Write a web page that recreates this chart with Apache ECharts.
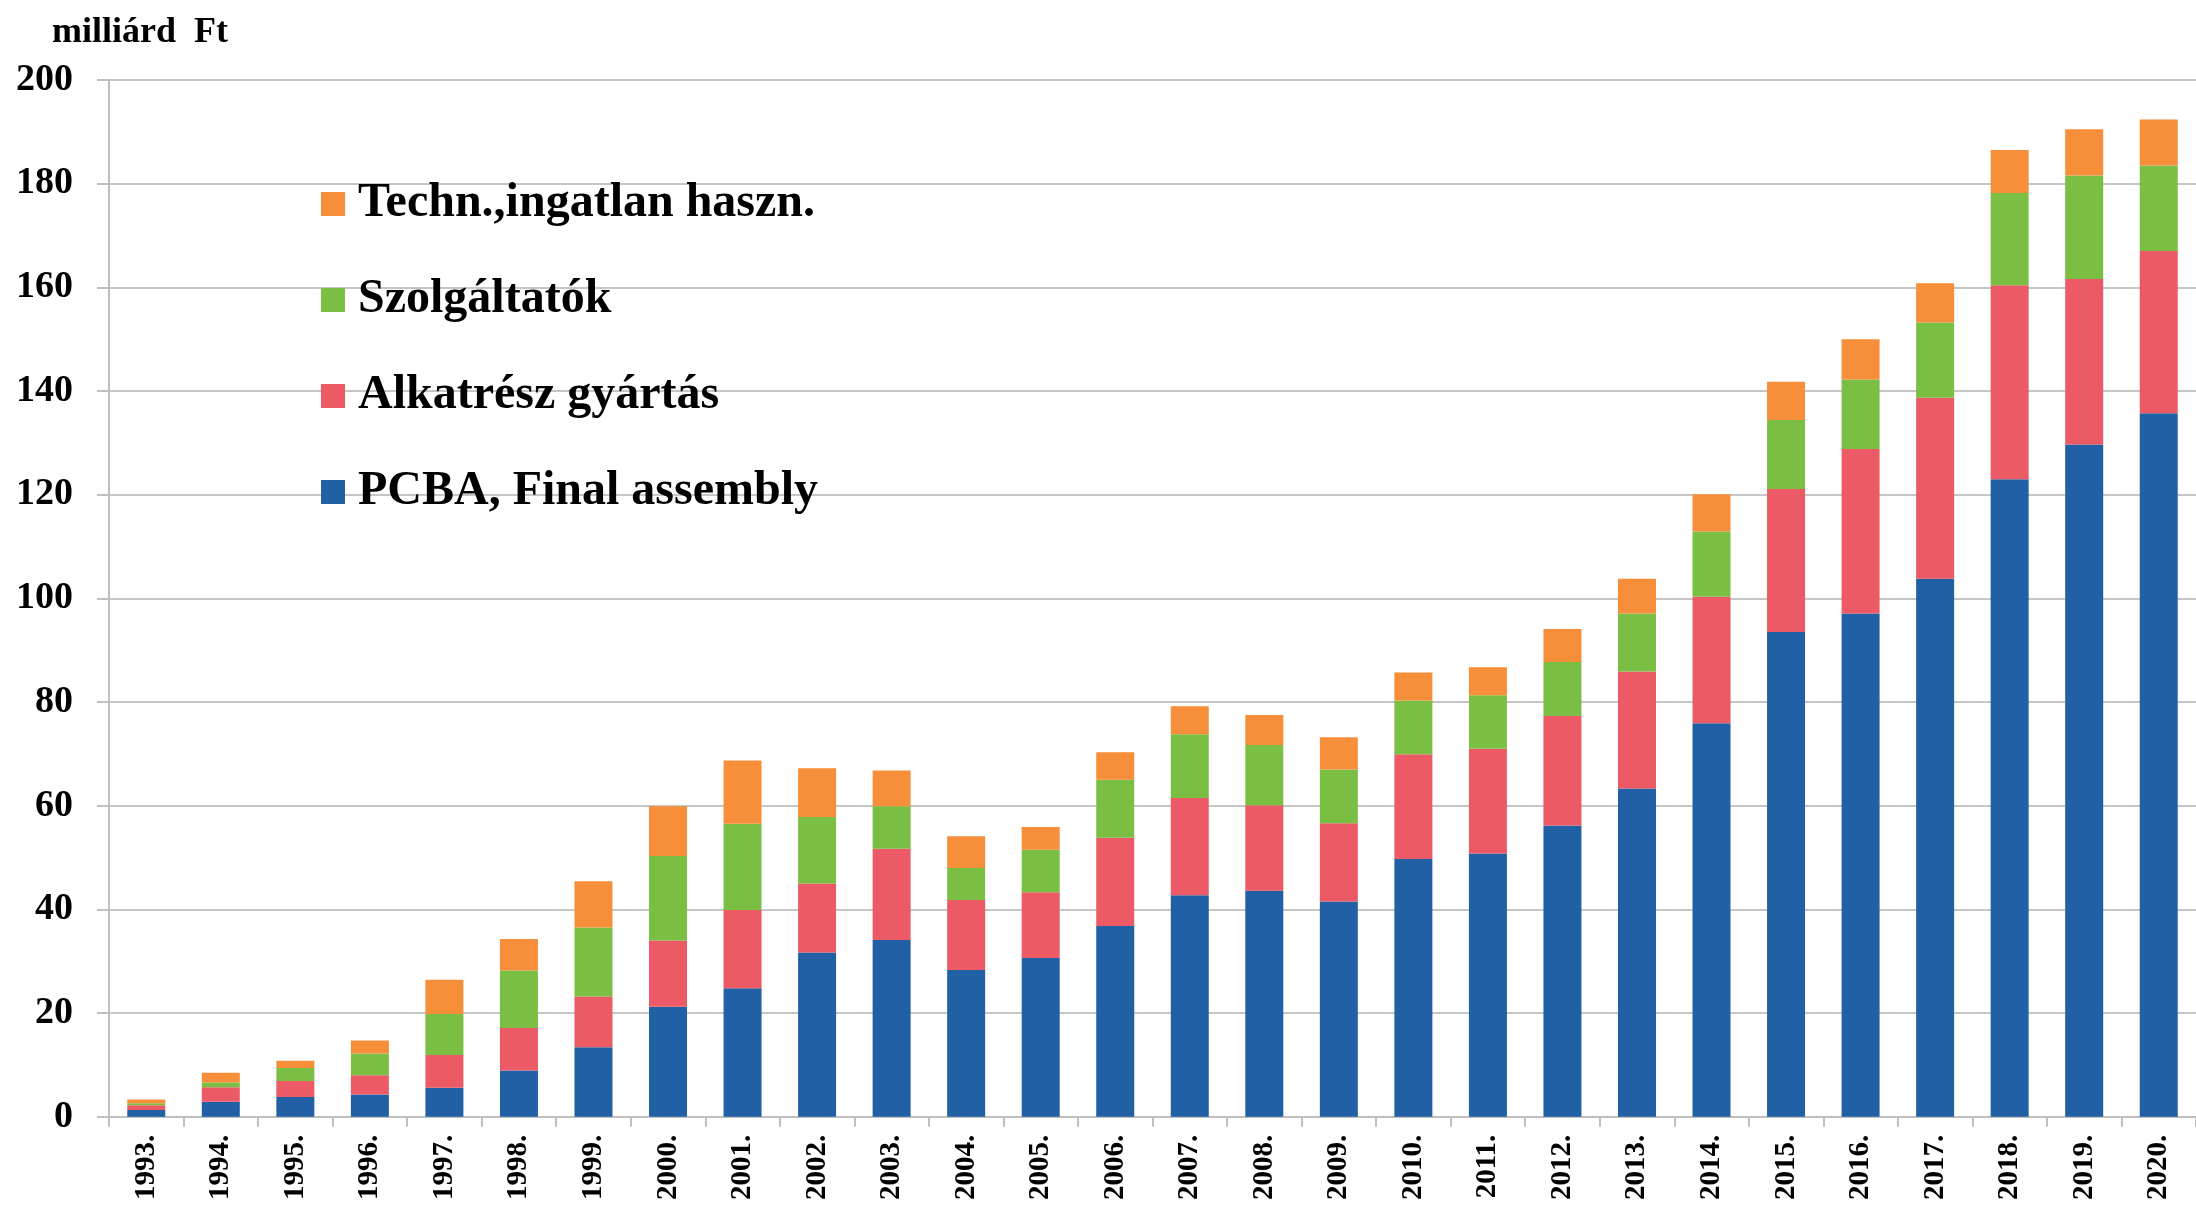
<!DOCTYPE html>
<html>
<head>
<meta charset="utf-8">
<script src="https://cdn.jsdelivr.net/npm/echarts@6/dist/echarts.min.js"></script>
<style>
html,body{margin:0;padding:0;background:#fff;}
#chart{width:2196px;height:1206px;}
</style>
</head>
<body>
<div id="chart"></div>
<script>
const years = ['1993.','1994.','1995.','1996.','1997.','1998.','1999.','2000.','2001.','2002.','2003.','2004.','2005.','2006.','2007.','2008.','2009.','2010.','2011.','2012.','2013.','2014.','2015.','2016.','2017.','2018.','2019.','2020.'];
const pcba = [1.3, 2.9, 3.8, 4.3, 5.6, 8.9, 13.4, 21.2, 24.8, 31.7, 34.1, 28.3, 30.6, 36.8, 42.7, 43.6, 41.5, 49.7, 50.8, 56.2, 63.3, 75.9, 93.5, 97.1, 103.8, 123.0, 129.7, 135.7];
const alkatresz = [0.9, 2.8, 3.1, 3.7, 6.3, 8.2, 9.8, 12.8, 15.1, 13.3, 17.6, 13.5, 12.7, 17.0, 18.8, 16.5, 15.1, 20.2, 20.2, 21.1, 22.6, 24.4, 27.6, 31.7, 34.9, 37.4, 31.9, 31.3];
const szolgaltatok = [0.4, 0.9, 2.5, 4.2, 7.9, 11.1, 13.3, 16.3, 16.6, 12.8, 8.2, 6.2, 8.2, 11.2, 12.3, 11.6, 10.4, 10.4, 10.3, 10.4, 11.2, 12.6, 13.3, 13.4, 14.5, 17.8, 20.0, 16.5];
const techn = [0.7, 1.9, 1.4, 2.5, 6.6, 6.1, 8.9, 9.6, 12.2, 9.4, 6.9, 6.1, 4.4, 5.3, 5.4, 5.8, 6.2, 5.4, 5.4, 6.4, 6.7, 7.2, 7.4, 7.8, 7.6, 8.3, 8.9, 8.9];
const seriesNames = ['PCBA, Final assembly', 'Alkatrész gyártás', 'Szolgáltatók', 'Techn.,ingatlan haszn.'];
const unitLabel = 'milliárd  Ft';

const FONT = '"Liberation Serif", "Times New Roman", serif';
const colors = ['#2160a5', '#ec5a65', '#7abf43', '#f68e3a'];
const chart = echarts.init(document.getElementById('chart'), null, {renderer: 'canvas'});
const values = [pcba, alkatresz, szolgaltatok, techn];

chart.setOption({
  animation: false,
  backgroundColor: '#fff',
  title: {
    text: unitLabel, left: 47, top: 10,
    textStyle: {fontFamily: FONT, fontWeight: 'bold', fontSize: 36, color: '#000'}
  },
  legend: {
    orient: 'vertical', left: 321, top: 180, padding: 0,
    data: seriesNames.slice().reverse(),
    icon: 'rect', itemWidth: 24, itemHeight: 24, itemGap: 48,
    textStyle: {fontFamily: FONT, fontWeight: 'bold', fontSize: 48, lineHeight: 48, color: '#000', padding: [0, 0, 0, 8]}
  },
  grid: {left: 109, top: 80, width: 2100, height: 1036.7, containLabel: false},
  xAxis: {
    type: 'category', data: years,
    axisLine: {lineStyle: {color: '#bfbfbf', width: 2}},
    axisTick: {show: true, length: 10, lineStyle: {color: '#bfbfbf', width: 2}},
    axisLabel: {interval: 0, rotate: 90, margin: 18, fontFamily: FONT, fontWeight: 'bold', fontSize: 29, color: '#000'}
  },
  yAxis: {
    type: 'value', min: 0, max: 200, interval: 20,
    axisLine: {show: true, lineStyle: {color: '#bfbfbf', width: 2}},
    axisTick: {show: true, length: 12, lineStyle: {color: '#bfbfbf', width: 2}},
    splitLine: {lineStyle: {color: '#c6c6c6', width: 2}},
    axisLabel: {margin: 36, fontFamily: FONT, fontWeight: 'bold', fontSize: 38, color: '#000'}
  },
  series: seriesNames.map((n, i) => ({
    name: n, type: 'bar', stack: 'total', data: values[i], barWidth: 38,
    itemStyle: {color: colors[i]}
  }))
});
</script>
</body>
</html>
